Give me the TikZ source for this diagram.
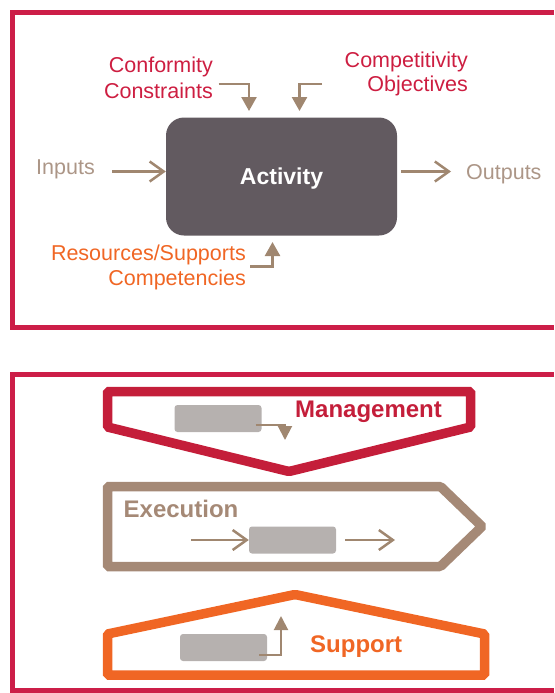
\documentclass[tikz,border=0pt]{standalone}
\usepackage{fontspec}
\setmainfont{Liberation Sans}
\usetikzlibrary{arrows.meta}
\definecolor{framecol}{RGB}{204,30,72}
\definecolor{mgmtcol}{RGB}{196,30,58}
\definecolor{redtext}{RGB}{205,30,65}
\definecolor{tancol}{RGB}{165,137,118}
\definecolor{tantext}{RGB}{172,150,135}
\definecolor{arrowtan}{RGB}{160,135,112}
\definecolor{orangecol}{RGB}{240,102,36}
\definecolor{actfill}{RGB}{98,90,96}
\definecolor{grayfill}{RGB}{182,177,175}
\tikzset{
  frame/.style={framecol,line width=5pt,line join=miter},
  lbl/.style={inner sep=0pt,font=\fontsize{21.5}{24}\selectfont},
  blbl/.style={inner sep=0pt,font=\fontsize{24}{28}\selectfont\bfseries},
  elbow/.style={arrowtan,line width=2.5pt,-{Triangle[length=14pt,width=15pt]}},
  smallelbow/.style={arrowtan,line width=2pt,-{Triangle[length=14pt,width=14pt]}},
  flow/.style={arrowtan,line width=2.5pt,-{Straight Barb[length=14pt,width=20pt,line width=2.5pt]}},
  band/.style={line width=9.5pt,line join=miter,rounded corners=1.5pt},
  graybox/.style={fill=grayfill,rounded corners=3pt,inner sep=0pt}
}
\begin{document}
\begin{tikzpicture}[x=1pt,y=-1pt]
\useasboundingbox (0,0) rectangle (554,693);
% frames
\draw[frame] (554,12.5) -- (12,12.5) -- (12,327.5) -- (554,327.5);
\draw[frame] (554,374.5) -- (12,374.5) -- (12,690.5) -- (554,690.5);

% ---- top panel
\node[fill=actfill,rounded corners=18pt,minimum width=231pt,minimum height=118pt,inner sep=0pt,
      text depth=0pt,text=white,font=\fontsize{23}{26}\selectfont\bfseries] (act) at (281.5,176.5) {Activity};

\node[lbl,redtext,anchor=base east] (conf) at (213,72) {Conformity};
\node[lbl,redtext,anchor=base east] (cons) at (213,98) {Constraints};
\node[lbl,redtext,anchor=base east] (comp) at (468,67) {Competitivity};
\node[lbl,redtext,anchor=base east] (obj) at (468,92) {Objectives};
\node[lbl,orangecol,anchor=base east] (res) at (246,260) {Resources/Supports};
\node[lbl,orangecol,anchor=base east] (cmp) at (246,285) {Competencies};
\node[lbl,tantext,anchor=base west] (inp) at (36,174) {Inputs};
\node[lbl,tantext,anchor=base west] (outp) at (466,179) {Outputs};

\coordinate (c1s) at (218.5,84);
\coordinate (c1t) at (249,111);
\coordinate (c2s) at (322,84);
\coordinate (c2t) at (299.5,111);
\coordinate (c3s) at (250,266.5);
\coordinate (c3t) at (272.5,242);
\draw[elbow] (c1s) -| (c1t);
\draw[elbow] (c2s) -| (c2t);
\draw[elbow] (c3s) -| (c3t);

\coordinate (ins) at (112,171.5);
\draw[flow] (ins) -- (act.west |- ins);
\coordinate (outs) at (401,171.5);
\coordinate (oute) at (451,171.5);
\draw[flow] (outs) -- (oute);

% ---- bottom panel
\draw[band,mgmtcol] (107.5,391.5) -- (470.5,391.5) -- (470.5,427) -- (289,471.5) -- (107.5,427) -- cycle;
\draw[band,tancol] (107.5,486.5) -- (440.5,486.5) -- (482,526.5) -- (440.5,566.5) -- (107.5,566.5) -- cycle;
\draw[band,orangecol] (107.5,675) -- (484.5,675) -- (484.5,634) -- (295,594.5) -- (107.5,634) -- cycle;

\node[graybox,minimum width=87pt,minimum height=27pt] (mbox) at (218,418.5) {};
\node[graybox,minimum width=87pt,minimum height=27pt] (ebox) at (292.5,540) {};
\node[graybox,minimum width=87pt,minimum height=27pt] (sbox) at (223.5,647.5) {};

\node[blbl,mgmtcol,anchor=base west] (mgmt) at (295,417) {Management};
\node[blbl,tancol,anchor=base west] (exec) at (123.5,517) {Execution};
\node[blbl,orangecol,anchor=base west] (supp) at (310,652) {Support};

\coordinate (ma) at (285,440);
\draw[smallelbow] ([xshift=-6pt,yshift=-6pt]mbox.east) -| (ma);
\coordinate (sa) at (281,616);
\draw[smallelbow] ([xshift=-8pt,yshift=-7.5pt]sbox.east) -| (sa);

\coordinate (ei) at (191,540);
\draw[flow] (ei) -- (ebox.west);
\coordinate (eo) at (395,540);
\draw[flow] (ebox.east) ++(9,0) coordinate (eos) (eos) -- (eo);
\end{tikzpicture}
\end{document}
